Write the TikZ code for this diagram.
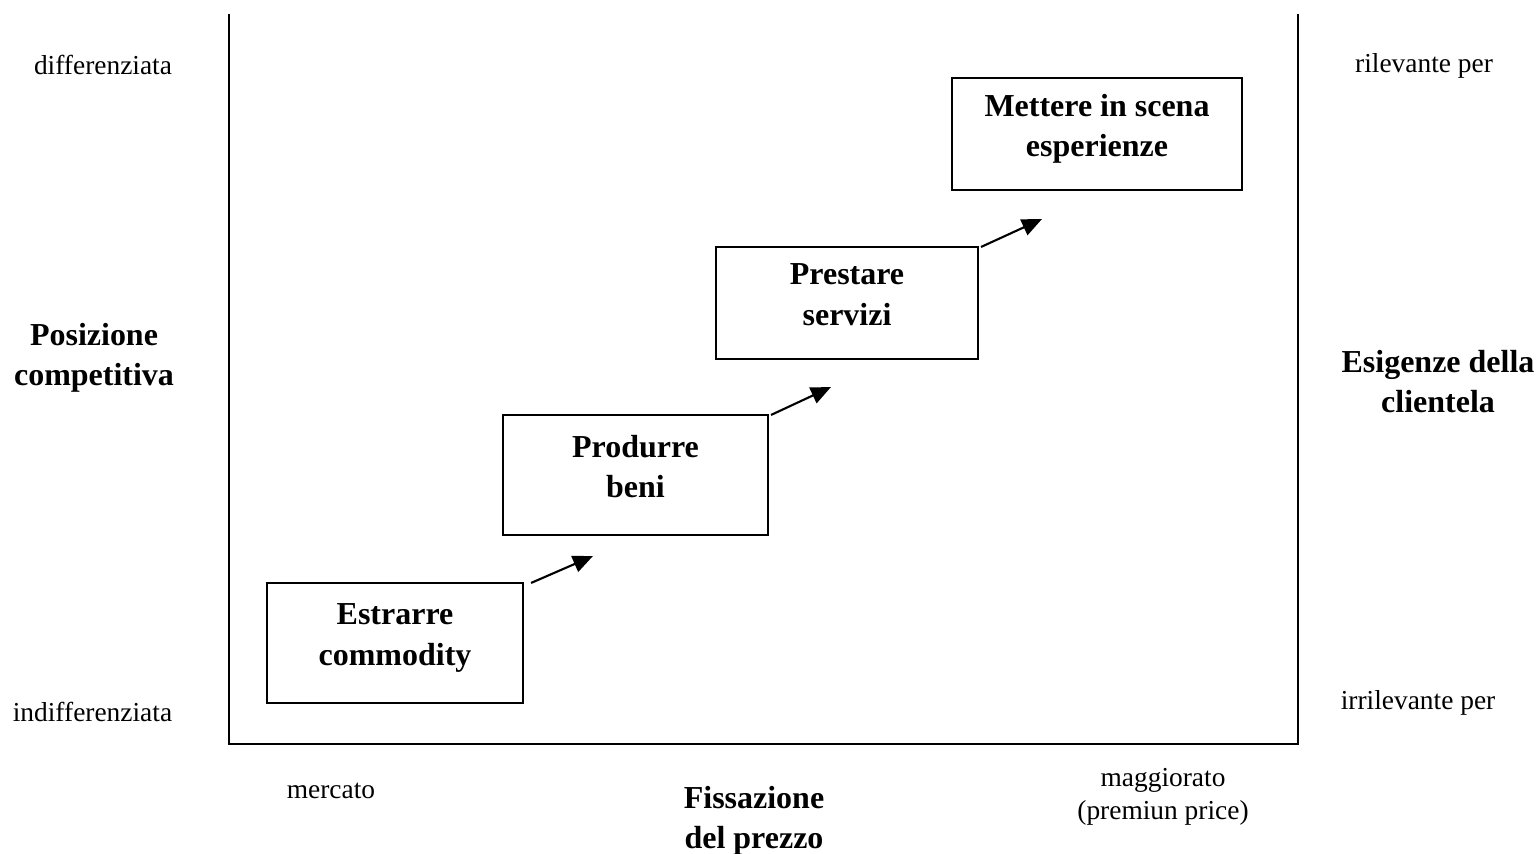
\documentclass[tikz,border=0pt]{standalone}
\usepackage{fontspec}
\setmainfont{Liberation Serif}
\usepackage{tikz}
\usetikzlibrary{arrows.meta,positioning}

\begin{document}
\begin{tikzpicture}[
    stage/.style={draw, line width=0.6pt, align=center, font=\fontsize{9.1}{11.4}\selectfont\bfseries, text depth=0.17cm},
    lbl/.style={align=center, font=\fontsize{7.8}{9.4}\selectfont},
    ttl/.style={align=center, font=\fontsize{9.1}{11.4}\selectfont\bfseries},
    axis/.style={line width=0.6pt},
    step arrow/.style={line width=0.6pt, -{Triangle[length=2mm, width=1.7mm]}}
  ]
    \useasboundingbox (0,0) rectangle (15.39,8.53);
    % axes
    \coordinate (top) at (2.29,8.39);
    \coordinate (origin) at (2.29,1.09);
    \coordinate (xend) at (12.98,1.09);
    \coordinate (rtop) at (12.98,8.39);
    \draw[axis] (top) -- (origin) -- (xend) -- (rtop);
    % stages
    \node[stage, minimum width=2.56cm, minimum height=1.20cm] (commodity) at (3.95,2.10) {Estrarre\\commodity};
    \node[stage, minimum width=2.65cm, minimum height=1.20cm] (beni) at (6.355,3.78) {Produrre\\beni};
    \node[stage, minimum width=2.62cm, minimum height=1.12cm] (servizi) at (8.47,5.50) {Prestare\\servizi};
    \node[stage, minimum width=2.90cm, minimum height=1.12cm] (esperienze) at (10.97,7.19) {Mettere in scena\\esperienze};
    % arrows
    \coordinate (tip1) at (5.93,2.97);
    \coordinate (tip2) at (8.31,4.66);
    \coordinate (tip3) at (10.42,6.34);
    \draw[step arrow] ([shift={(0.07,-0.01)}]commodity.north east) -- (tip1);
    \draw[step arrow] ([shift={(0.02,-0.01)}]beni.north east) -- (tip2);
    \draw[step arrow] ([shift={(0.02,-0.01)}]servizi.north east) -- (tip3);
    % labels
    \node[lbl] (diff) at (1.03,7.88) {differenziata};
    \node[lbl] (indiff) at (0.925,1.41) {indifferenziata};
    \node[ttl] (pos) at (0.94,4.95) {Posizione\\competitiva};
    \node[lbl] (ril) at (14.24,7.87) {rilevante per};
    \node[lbl] (irril) at (14.18,1.50) {irrilevante per};
    \node[ttl] (esig) at (14.38,4.71) {Esigenze della\\clientela};
    \node[lbl] (mercato) at (3.31,0.62) {mercato};
    \node[ttl] (prezzo) at (7.54,0.32) {Fissazione\\del prezzo};
    \node[lbl] (premium) at (11.63,0.56) {maggiorato\\(premiun price)};
\end{tikzpicture}
\end{document}
